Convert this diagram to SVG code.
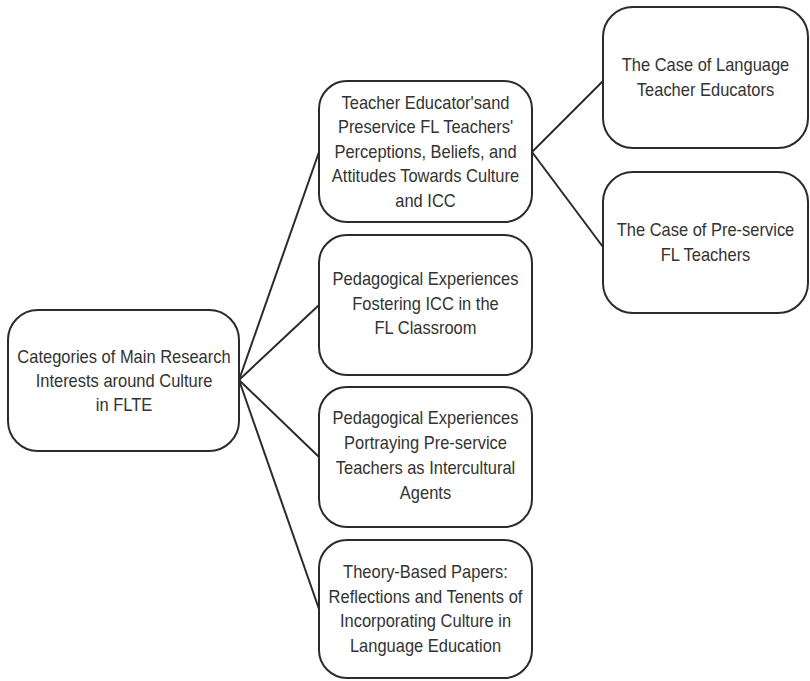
<svg xmlns="http://www.w3.org/2000/svg" width="810" height="681" viewBox="0 0 810 681">
<style>
.box{fill:#ffffff;stroke:#2b2b2b;stroke-width:2}
.lbl{font-family:"Liberation Sans",Arial,sans-serif;font-size:18px;fill:#333333;text-anchor:middle}
.con{stroke:#2b2b2b;stroke-width:2;fill:none}
</style>
<rect width="810" height="681" fill="#ffffff"/>
<g id="connectors">
<line class="con" x1="239" y1="380" x2="319" y2="152"/>
<line class="con" x1="239" y1="380" x2="319" y2="305"/>
<line class="con" x1="239" y1="380" x2="319" y2="457"/>
<line class="con" x1="239" y1="380" x2="319" y2="609"/>
<line class="con" x1="532" y1="152" x2="603" y2="81"/>
<line class="con" x1="532" y1="152" x2="603" y2="247"/>
</g>
<g id="root">
<rect class="box" x="8" y="310" width="231" height="141" rx="30"/>
<text class="lbl" transform="translate(124 0) scale(0.915 1)"><tspan x="0" y="363.5">Categories of Main Research</tspan><tspan x="0" y="387.5">Interests around Culture</tspan><tspan x="0" y="411.5">in FLTE</tspan></text>
</g>
<g id="perceptions">
<rect class="box" x="319" y="81" width="213" height="141" rx="28"/>
<text class="lbl" transform="translate(425.5 0) scale(0.915 1)"><tspan x="0" y="109">Teacher Educator'sand</tspan><tspan x="0" y="133.5">Preservice FL Teachers'</tspan><tspan x="0" y="158">Perceptions, Beliefs, and</tspan><tspan x="0" y="182.5">Attitudes Towards Culture</tspan><tspan x="0" y="207">and ICC</tspan></text>
</g>
<g id="fostering">
<rect class="box" x="319" y="235" width="213" height="140" rx="28"/>
<text class="lbl" transform="translate(425.5 0) scale(0.915 1)"><tspan x="0" y="285.5">Pedagogical Experiences</tspan><tspan x="0" y="310">Fostering ICC in the</tspan><tspan x="0" y="334.5">FL Classroom</tspan></text>
</g>
<g id="portraying">
<rect class="box" x="319" y="387" width="213" height="140" rx="28"/>
<text class="lbl" transform="translate(425.5 0) scale(0.915 1)"><tspan x="0" y="424.5">Pedagogical Experiences</tspan><tspan x="0" y="449.5">Portraying Pre-service</tspan><tspan x="0" y="474.5">Teachers as Intercultural</tspan><tspan x="0" y="499.5">Agents</tspan></text>
</g>
<g id="theory">
<rect class="box" x="319" y="540" width="213" height="138" rx="28"/>
<text class="lbl" transform="translate(425.5 0) scale(0.915 1)"><tspan x="0" y="578.5">Theory-Based Papers:</tspan><tspan x="0" y="603">Reflections and Tenents of</tspan><tspan x="0" y="627.5">Incorporating Culture in</tspan><tspan x="0" y="652">Language Education</tspan></text>
</g>
<g id="case-educators">
<rect class="box" x="603" y="7" width="205" height="141" rx="30"/>
<text class="lbl" transform="translate(705.5 0) scale(0.915 1)"><tspan x="0" y="71.5">The Case of Language</tspan><tspan x="0" y="96.5">Teacher Educators</tspan></text>
</g>
<g id="case-preservice">
<rect class="box" x="603" y="172" width="205" height="141" rx="30"/>
<text class="lbl" transform="translate(705.5 0) scale(0.915 1)"><tspan x="0" y="236.5">The Case of Pre-service</tspan><tspan x="0" y="261.5">FL Teachers</tspan></text>
</g>
</svg>
